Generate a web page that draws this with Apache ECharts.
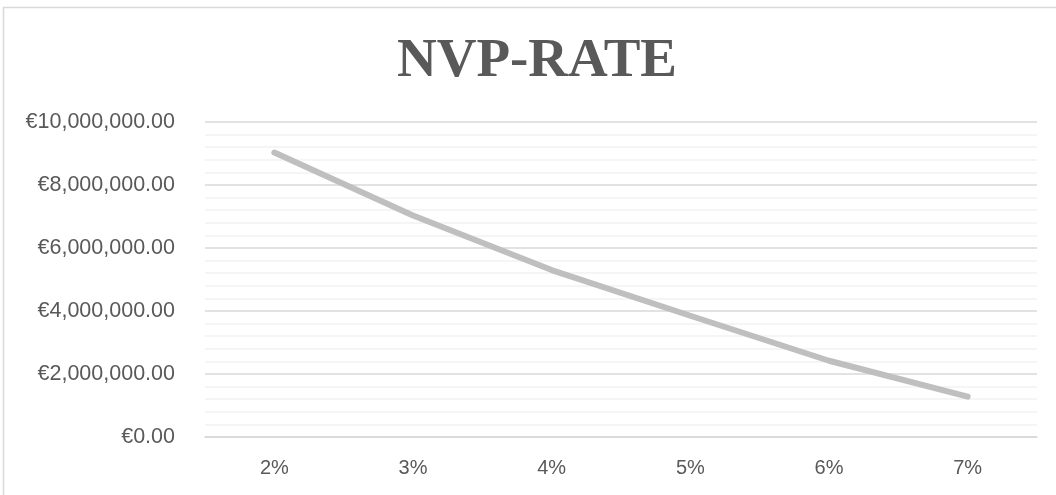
<!DOCTYPE html>
<html>
<head>
<meta charset="utf-8">
<title>NVP-RATE</title>
<script src="https://cdn.jsdelivr.net/npm/echarts@6/dist/echarts.min.js"></script>
<style>
  html, body { margin: 0; padding: 0; background: #ffffff; }
  #chart { width: 1056px; height: 495px; }
</style>
</head>
<body>
<div id="chart"></div>
<script>
// Discount rates and the net present value at each rate
const rates = ['2%', '3%', '4%', '5%', '6%', '7%'];
const npv = [9030000, 7030000, 5300000, 3850000, 2420000, 1280000];

// Value axis range
const yMin = 0;
const yMax = 10000000;
const yStep = 2000000;

function euro(v) {
  const fixed = Math.abs(v).toFixed(2);
  const parts = fixed.split('.');
  const whole = parts[0].replace(/\B(?=(\d{3})+(?!\d))/g, ',');
  return (v < 0 ? '-' : '') + '€' + whole + '.' + parts[1];
}

const chart = echarts.init(document.getElementById('chart'), null, { renderer: 'canvas' });

chart.setOption({
  animation: false,
  backgroundColor: '#ffffff',
  graphic: [
    {
      type: 'rect',
      silent: true,
      shape: { x: 3.5, y: 7.5, width: 1100, height: 600 },
      style: { fill: 'none', stroke: '#d9d9d9', lineWidth: 1.5 }
    },
    {
      type: 'text',
      silent: true,
      x: 537,
      y: 62,
      style: {
        text: 'NVP-RATE',
        font: 'bold 55px "Liberation Serif", "Times New Roman", serif',
        fill: '#595959',
        align: 'center',
        verticalAlign: 'middle'
      }
    }
  ],
  grid: { left: 205, right: 19, top: 122, bottom: 58, containLabel: false },
  xAxis: {
    type: 'category',
    data: rates,
    boundaryGap: true,
    axisLine: { show: true, lineStyle: { color: '#d9d9d9', width: 1.5 } },
    axisTick: { show: false },
    axisLabel: {
      margin: 21,
      color: '#595959',
      fontSize: 20,
      fontFamily: '"Liberation Sans", Arial, sans-serif'
    },
    splitLine: { show: false }
  },
  yAxis: {
    type: 'value',
    min: yMin,
    max: yMax,
    interval: yStep,
    axisLine: { show: false },
    axisTick: { show: false },
    axisLabel: {
      margin: 30,
      color: '#595959',
      fontSize: 21.5,
      fontFamily: '"Liberation Sans", Arial, sans-serif',
      formatter: euro
    },
    splitLine: { show: true, lineStyle: { color: '#d9d9d9', width: 1.5 } },
    minorTick: { show: false, splitNumber: 5 },
    minorSplitLine: { show: true, lineStyle: { color: '#f2f2f2', width: 1.5 } }
  },
  series: [
    {
      type: 'line',
      data: npv,
      showSymbol: false,
      symbol: 'none',
      smooth: false,
      lineStyle: { color: '#bfbfbf', width: 6, cap: 'round', join: 'round' }
    }
  ]
});
</script>
</body>
</html>
